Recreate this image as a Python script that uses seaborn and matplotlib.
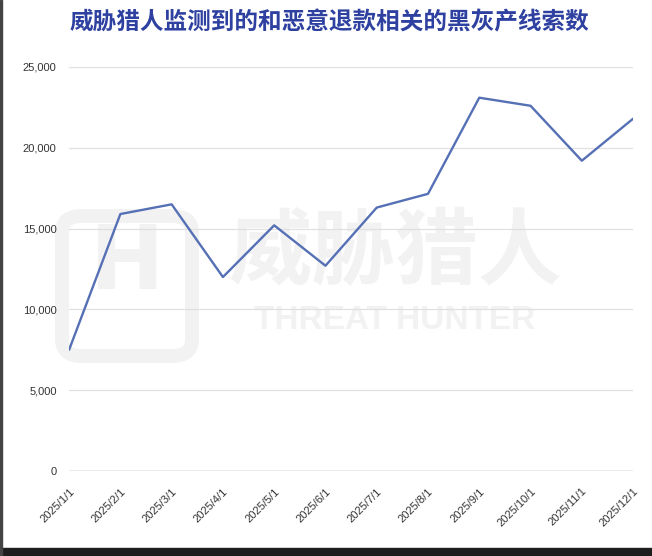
import matplotlib
matplotlib.use("Agg")
import matplotlib.pyplot as plt
import seaborn as sns
import pandas as pd
from matplotlib.ticker import FuncFormatter
from matplotlib.patches import FancyBboxPatch

months = ["2025/1/1", "2025/2/1", "2025/3/1", "2025/4/1", "2025/5/1", "2025/6/1",
          "2025/7/1", "2025/8/1", "2025/9/1", "2025/10/1", "2025/11/1", "2025/12/1"]
counts = [7500, 15900, 16500, 12000, 15200, 12700, 16300, 17150, 23100, 22600, 19200, 21800]
yticks = [0, 5000, 10000, 15000, 20000, 25000]
title = "威胁猎人监测到的和恶意退款相关的黑灰产线索数"

sns.set_theme(style="white")
plt.rcParams['font.family'] = ['Noto Sans CJK SC', 'DejaVu Sans']

df = pd.DataFrame({"idx": range(len(months)), "count": counts})

fig = plt.figure(figsize=(6.52, 5.56), dpi=100)
fig.patch.set_facecolor("white")
ax = fig.add_axes([0.106, 0.153, 0.865, 0.7265])
ax.set_zorder(2)
ax.set_facecolor("none")

# faint watermark behind the chart
wm = "#f2f2f2"
fig.text(0.606, 0.543, "威胁猎人", fontsize=60, color=wm, ha="center", va="center",
         fontweight="black", zorder=0)
fig.text(0.606, 0.423, "THREAT HUNTER", fontsize=24, color=wm, ha="center", va="center",
         family=["Liberation Sans", "DejaVu Sans"], fontweight="bold", zorder=0)
shield = FancyBboxPatch((62/652, 200/556), 130/652, 140/556, transform=fig.transFigure,
                        boxstyle="round,pad=0,rounding_size=0.03", fill=False,
                        ec=wm, lw=10, zorder=0)
fig.add_artist(shield)
fig.text(127/652, 1 - 265/556, "H", fontsize=64, color=wm, ha="center", va="center",
         fontweight="bold", family=["DejaVu Sans"], zorder=0)

for t in yticks[1:]:
    ax.axhline(t, color="#e0e0e0", lw=0.9, zorder=0)
ax.axhline(0, color="#9a9a9a", lw=1.0, zorder=1)

sns.lineplot(data=df, x="idx", y="count", ax=ax, color="#5670b5", lw=1.7, zorder=3)

ax.set_xlim(0, 11)
ax.set_ylim(0, 25000)
ax.set_yticks(yticks)
ax.yaxis.set_major_formatter(FuncFormatter(lambda v, p: f"{int(v):,}"))
ax.set_xticks(range(len(months)))
ax.set_xticklabels(months, rotation=45, ha="right", rotation_mode="anchor")
ax.tick_params(axis="both", length=0, labelsize=8, colors="#333333")
for lab in ax.get_xticklabels() + ax.get_yticklabels():
    lab.set_family(["Liberation Sans", "DejaVu Sans"])
ax.tick_params(axis="y", pad=9)
ax.tick_params(axis="x", pad=11)
ax.set_xlabel("")
ax.set_ylabel("")
for s in ax.spines.values():
    s.set_visible(False)

fig.text(0.505, 0.960, title, fontsize=17, fontweight="bold", color="#2e41a0",
         ha="center", va="center")

# frame elements of the screenshot
fig.add_artist(plt.Rectangle((0, 0), 1, 8/556, transform=fig.transFigure,
                             color="#1e1e1e", zorder=5))
fig.add_artist(plt.Rectangle((0, 0), 1.5/652, 1, transform=fig.transFigure,
                             color="#444444", zorder=5))

fig.savefig("out.png", dpi=100)
